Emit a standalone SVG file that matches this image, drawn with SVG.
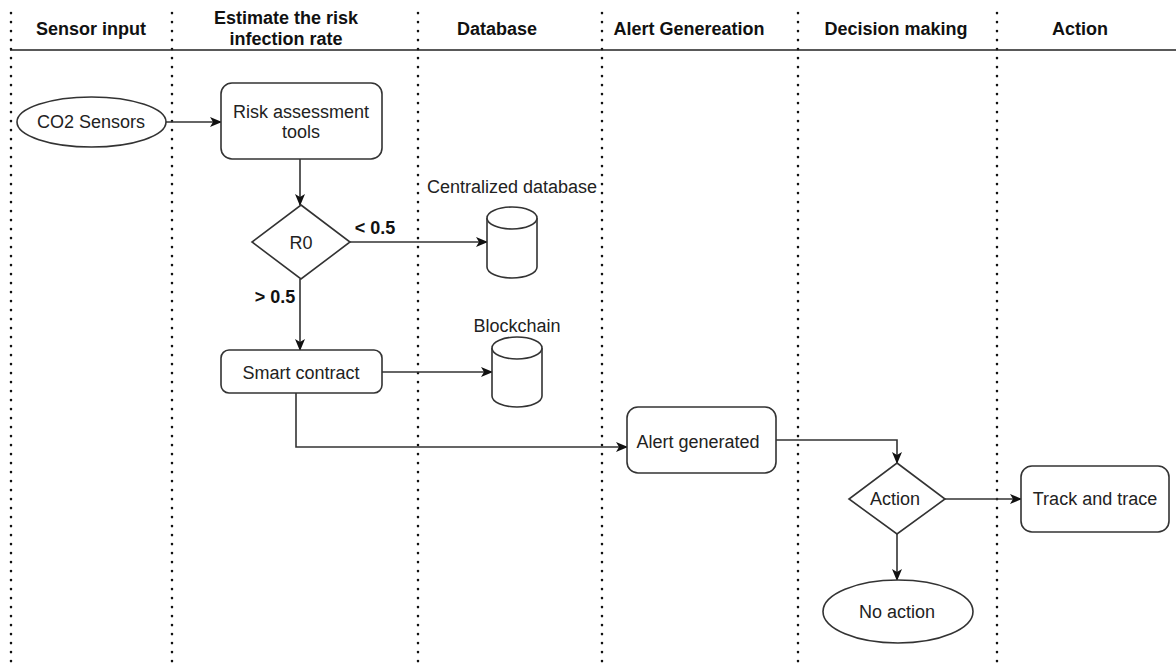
<svg xmlns="http://www.w3.org/2000/svg" width="1176" height="668" viewBox="0 0 1176 668">
<defs>
<style>
.lane{stroke:#111;stroke-width:2.6;stroke-dasharray:0.1 8.9;stroke-linecap:round;fill:none}
.hdr{font-family:"Liberation Sans",Arial,sans-serif;font-weight:bold;font-size:18px;fill:#111;text-anchor:middle}
.shape{fill:#fff;stroke:#333;stroke-width:1.6}
.txt{font-family:"Liberation Sans",Arial,sans-serif;font-size:18px;fill:#222;text-anchor:middle}
.lbl{font-family:"Liberation Sans",Arial,sans-serif;font-size:18px;font-weight:bold;fill:#111;text-anchor:middle}
.edge{fill:none;stroke:#333;stroke-width:1.6}
</style>
<marker id="arr" viewBox="0 0 12 10" refX="11" refY="5" markerWidth="12" markerHeight="10" markerUnits="userSpaceOnUse" orient="auto">
<path d="M0,0 L12,5 L0,10 L3,5 z" fill="#111"/>
</marker>
</defs>
<rect width="1176" height="668" fill="#fff"/>
<g id="lanes">
<line class="lane" x1="11" y1="13" x2="11" y2="668"/>
<line class="lane" x1="172" y1="13" x2="172" y2="668"/>
<line class="lane" x1="418" y1="13" x2="418" y2="668"/>
<line class="lane" x1="602" y1="13" x2="602" y2="668"/>
<line class="lane" x1="798" y1="13" x2="798" y2="668"/>
<line class="lane" x1="997" y1="13" x2="997" y2="668"/>
<line x1="10" y1="50" x2="1176" y2="50" stroke="#222" stroke-width="1.6"/>
<text class="hdr" x="91" y="35">Sensor input</text>
<text class="hdr" x="286" y="24">Estimate the risk</text>
<text class="hdr" x="286" y="45">infection rate</text>
<text class="hdr" x="497" y="35">Database</text>
<text class="hdr" x="689" y="35">Alert Genereation</text>
<text class="hdr" x="896" y="35">Decision making</text>
<text class="hdr" x="1080" y="35">Action</text>
</g>
<g id="connectors">
<path class="edge" d="M166,122 L221,122" marker-end="url(#arr)"/>
<path class="edge" d="M300,159 L300,205" marker-end="url(#arr)"/>
<path class="edge" d="M350,242 L487,242" marker-end="url(#arr)"/>
<path class="edge" d="M300,279 L300,350" marker-end="url(#arr)"/>
<path class="edge" d="M382,372 L492,372" marker-end="url(#arr)"/>
<path class="edge" d="M296,393 L296,447 L627,447" marker-end="url(#arr)"/>
<path class="edge" d="M776,440 L897,440 L897,463" marker-end="url(#arr)"/>
<path class="edge" d="M945,499 L1021,499" marker-end="url(#arr)"/>
<path class="edge" d="M897,534 L897,580" marker-end="url(#arr)"/>
<text class="lbl" x="375" y="234">&lt; 0.5</text>
<text class="lbl" x="275" y="303">&gt; 0.5</text>
</g>
<g id="co2">
<ellipse class="shape" cx="91.5" cy="122" rx="74.5" ry="25"/>
<text class="txt" x="91" y="128">CO2 Sensors</text>
</g>
<g id="risk">
<rect class="shape" x="221" y="83" width="161" height="76" rx="11"/>
<text class="txt" x="301" y="118">Risk assessment</text>
<text class="txt" x="301" y="138">tools</text>
</g>
<g id="r0">
<polygon class="shape" points="301,205 350,242 301,279 252,242"/>
<text class="txt" x="301" y="249">R0</text>
</g>
<g id="centraldb">
<path class="shape" d="M487,218 A25,11 0 0 1 537,218 L537,267 A25,11 0 0 1 487,267 Z"/>
<path class="shape" fill="none" d="M487,218 A25,11 0 0 0 537,218"/>
<text class="txt" x="512" y="193">Centralized database</text>
</g>
<g id="smart">
<rect class="shape" x="221" y="350" width="161" height="43" rx="8"/>
<text class="txt" x="301" y="379">Smart contract</text>
</g>
<g id="blockchain">
<path class="shape" d="M492,348 A25,11 0 0 1 542,348 L542,396 A25,11 0 0 1 492,396 Z"/>
<path class="shape" fill="none" d="M492,348 A25,11 0 0 0 542,348"/>
<text class="txt" x="517" y="332">Blockchain</text>
</g>
<g id="alert">
<rect class="shape" x="627" y="407" width="149" height="66" rx="11"/>
<text class="txt" x="698" y="448">Alert generated</text>
</g>
<g id="actiondec">
<polygon class="shape" points="897,463 945,499 897,534 849,499"/>
<text class="txt" x="895" y="505">Action</text>
</g>
<g id="track">
<rect class="shape" x="1021" y="466" width="148" height="66" rx="11"/>
<text class="txt" x="1095" y="505">Track and trace</text>
</g>
<g id="noaction">
<ellipse class="shape" cx="898" cy="611.5" rx="75" ry="31.5"/>
<text class="txt" x="897" y="618">No action</text>
</g>
</svg>
